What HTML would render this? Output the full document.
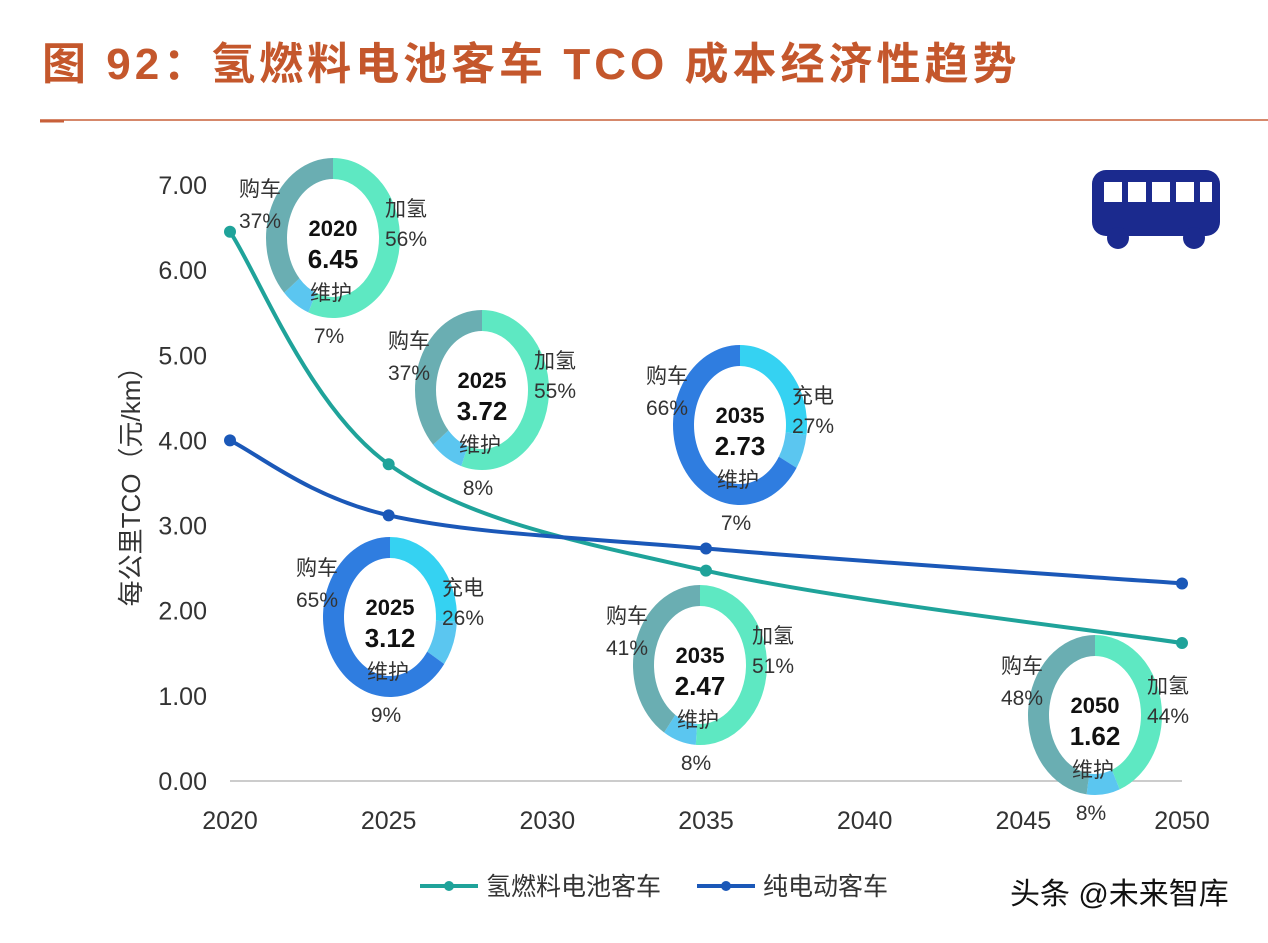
<!DOCTYPE html>
<html><head><meta charset="utf-8"><style>
body{margin:0;background:#fff;width:1268px;height:938px;overflow:hidden;font-family:"Liberation Sans","Noto Sans CJK SC",sans-serif}
</style></head><body>
<svg id="c" width="1268" height="938" xmlns="http://www.w3.org/2000/svg" font-family="Liberation Sans, Noto Sans CJK SC, sans-serif">
<text x="42" y="79" font-size="44" font-weight="bold" letter-spacing="4" fill="#c4572c">图 92：氢燃料电池客车 TCO 成本经济性趋势</text>
<line x1="40" y1="120" x2="1268" y2="120" stroke="#c8603a" stroke-width="1.5"/>
<line x1="40" y1="121" x2="64" y2="121" stroke="#c8603a" stroke-width="3"/>
<g fill="#1b2a8e">
<rect x="1092" y="170" width="128" height="66" rx="14"/>
<circle cx="1118" cy="238" r="11"/><circle cx="1194" cy="238" r="11"/>
<g fill="#fff"><rect x="1104" y="182" width="18" height="20"/><rect x="1128" y="182" width="18" height="20"/><rect x="1152" y="182" width="18" height="20"/><rect x="1176" y="182" width="18" height="20"/><rect x="1200" y="182" width="12" height="20"/></g>
</g>
<g id="axes"></g><g id="donuts"></g><g id="lines"></g>
<text transform="translate(140,480) rotate(-90)" text-anchor="middle" font-size="26" fill="#333">每公里TCO（元/km）</text>
<g>
<line x1="420" y1="886" x2="478" y2="886" stroke="#1fa39a" stroke-width="4"/><circle cx="449" cy="886" r="5" fill="#1fa39a"/>
<text x="486" y="895" font-size="25" fill="#333">氢燃料电池客车</text>
<line x1="697" y1="886" x2="755" y2="886" stroke="#1b58b8" stroke-width="4"/><circle cx="726" cy="886" r="5" fill="#1b58b8"/>
<text x="763" y="895" font-size="25" fill="#333">纯电动客车</text>
</g>
<text x="1010" y="904" font-size="30" fill="#111">头条 @未来智库</text>
</svg>
<script>
const years=[2020,2025,2030,2035,2040,2045,2050];
const yTicks=[0,1,2,3,4,5,6,7];
const h2Years=[2020,2025,2035,2050];
const h2Values=[6.45,3.72,2.47,1.62];
const evYears=[2020,2025,2035,2050];
const evValues=[4.0,3.12,2.73,2.32];
const donutYears=[2020,2025,2025,2035,2035,2050];
const donutTotals=[6.45,3.72,3.12,2.73,2.47,1.62];
const donutShares=[[56,7,37],[55,8,37],[26,9,65],[27,7,66],[51,8,41],[44,8,48]];
const donutTypes=['h2','h2','ev','ev','h2','h2'];
const NS='http://www.w3.org/2000/svg';
const X=y=>230+(y-2020)*(952/30);
const Y=v=>781-v*85.15;
function mk(t,a,p){const e=document.createElementNS(NS,t);for(const k in a)e.setAttribute(k,a[k]);p.appendChild(e);return e;}
const ax=document.getElementById('axes');
const xl=mk('line',{x1:230,y1:781,x2:1182,y2:781,stroke:'#bbb','stroke-width':1.5},ax);


yTicks.forEach(v=>{const t=mk('text',{x:207,y:Y(v)+9,'text-anchor':'end','font-size':25,fill:'#333'},ax);t.textContent=v.toFixed(2);

});
years.forEach(y=>{const t=mk('text',{x:X(y),y:829,'text-anchor':'middle','font-size':25,fill:'#333'},ax);t.textContent=y;

});
const pos=[[333,238],[482,390],[390,617],[740,425],[700,665],[1095,715]];
const cols={h2:['#5ee8c2','#5bc6f0','#6aaeb2'],ev:['#35d2f2','#5bc6f0','#2f7de0']};
const labs={h2:['加氢','维护','购车'],ev:['充电','维护','购车']};
const dg=document.getElementById('donuts');
donutShares.forEach((sh,i)=>{
 const [cx,cy]=pos[i];const g=mk('g',{},dg);
 
 
 const rx=67,ry=80,th=21;let a=-Math.PI/2;
 sh.forEach((s,j)=>{const b=a+s/100*2*Math.PI;
  const p=(r1,r2,t)=>[cx+r1*Math.cos(t),cy+r2*Math.sin(t)];
  const [x1,y1]=p(rx,ry,a),[x2,y2]=p(rx,ry,b),[x3,y3]=p(rx-th,ry-th,b),[x4,y4]=p(rx-th,ry-th,a);
  const l=s>50?1:0;
  const seg=mk('path',{d:`M${x1},${y1}A${rx},${ry} 0 ${l} 1 ${x2},${y2}L${x3},${y3}A${rx-th},${ry-th} 0 ${l} 0 ${x4},${y4}Z`,fill:cols[donutTypes[i]][j]},g);
  
  
  a=b;});
 const t1=mk('text',{x:cx,y:cy-2,'text-anchor':'middle','font-size':22,'font-weight':'bold',fill:'#111'},g);t1.textContent=donutYears[i];
 const t2=mk('text',{x:cx,y:cy+30,'text-anchor':'middle','font-size':26,'font-weight':'bold',fill:'#111'},g);t2.textContent=donutTotals[i].toFixed(2);
 const L=labs[donutTypes[i]];
 const put=(s,x,y,a)=>{const t=mk('text',{x,y,'text-anchor':a,'font-size':21,fill:'#333'},g);t.textContent=s;};
 put(L[0],cx+52,cy-22,'start');put(sh[0]+'%',cx+52,cy+8,'start');
 put(L[2],cx-52,cy-42,'end');put(sh[2]+'%',cx-52,cy-10,'end');
 put(L[1],cx-2,cy+62,'middle');put(sh[1]+'%',cx-4,cy+105,'middle');
});
const lg=document.getElementById('lines');
function series(xs,vs,c,name){
 let d='';const pts=xs.map((x,i)=>[X(x),Y(vs[i])]);
 d='M'+pts[0];for(let i=0;i<pts.length-1;i++){const p0=pts[i-1]||pts[i],p1=pts[i],p2=pts[i+1],p3=pts[i+2]||p2;
  const c1=[p1[0]+(p2[0]-p0[0])/6,p1[1]+(p2[1]-p0[1])/6],c2=[p2[0]-(p3[0]-p1[0])/6,p2[1]-(p3[1]-p1[1])/6];
  d+=`C${c1} ${c2} ${p2}`;}
 const l=mk('path',{d,fill:'none',stroke:c,'stroke-width':4},lg);
 
 
 pts.forEach(p=>{const m=mk('circle',{cx:p[0],cy:p[1],r:6,fill:c},lg);
 
 });
}
series(h2Years,h2Values,'#1fa39a','hydrogen');
series(evYears,evValues,'#1b58b8','electric');
</script>
</body></html>
